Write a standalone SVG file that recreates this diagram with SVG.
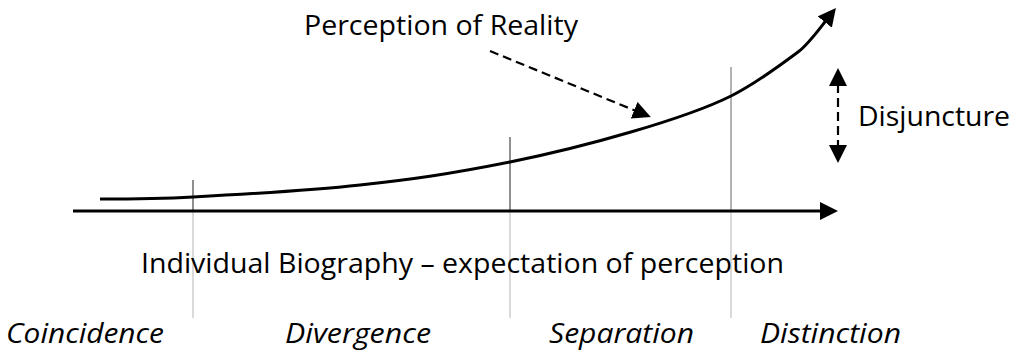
<svg xmlns="http://www.w3.org/2000/svg" width="1019" height="354" viewBox="0 0 1019 354">
  <defs>
    <marker id="arrow" viewBox="0 0 18 18" markerWidth="18" markerHeight="18" refX="2" refY="9" markerUnits="userSpaceOnUse" orient="auto-start-reverse">
      <path d="M0,0 L18,9 L0,18 Z" fill="#000" stroke="none"/>
    </marker>
    <style>
      .lbl { font-family: "Open Sans", "Noto Sans", "DejaVu Sans", sans-serif; font-size: 28px; fill: #000; }
      .it { font-style: italic; }
      .solid { fill: none; stroke: #000; stroke-width: 3; }
      .dash { fill: none; stroke: #000; stroke-width: 2.2; stroke-dasharray: 9 5; }
      .divTop { stroke: #454545; stroke-width: 1.2; }
      .divBot { stroke: #b5b5b5; stroke-width: 1; }
    </style>
  </defs>
  <rect width="1019" height="354" fill="#fff"/>

  <g id="dividers">
    <line class="divTop" x1="193" y1="180" x2="193" y2="211"/>
    <line class="divBot" x1="193" y1="211" x2="193" y2="318"/>
    <line class="divTop" x1="510" y1="137" x2="510" y2="211"/>
    <line class="divBot" x1="510" y1="211" x2="510" y2="318"/>
    <line class="divTop" x1="731" y1="67" x2="731" y2="211" style="stroke:#808080"/>
    <line class="divBot" x1="731" y1="211" x2="731" y2="318"/>
  </g>

  <g id="connectors">
    <line id="axis" class="solid" x1="73" y1="211" x2="822" y2="211" marker-end="url(#arrow)"/>
    <path id="reality-curve" class="solid" d="M100,199 C131,199 162,198.7 193,197 C236.3,194.7 307.2,190.8 360,185 C412.8,179.2 448,174.4 510,162 C585,147 686,118.5 731,96 C753,85 776,68.5 798,52 C808,44.5 819.2,29.1 826,20.5" marker-end="url(#arrow)"/>
    <line id="pointer" class="dash" x1="490" y1="51" x2="636" y2="111" marker-end="url(#arrow)"/>
    <line id="disjuncture-arrow" class="dash" x1="838" y1="84" x2="838" y2="147" marker-start="url(#arrow)" marker-end="url(#arrow)"/>
  </g>

  <g id="label-perception">
    <text class="lbl" x="304" y="35" textLength="274" lengthAdjust="spacingAndGlyphs">Perception of Reality</text>
  </g>
  <g id="label-disjuncture">
    <text class="lbl" x="858" y="126" textLength="152" lengthAdjust="spacingAndGlyphs">Disjuncture</text>
  </g>
  <g id="label-biography">
    <text class="lbl" x="141" y="273" textLength="643" lengthAdjust="spacingAndGlyphs">Individual Biography – expectation of perception</text>
  </g>
  <g id="label-coincidence">
    <text class="lbl it" x="6" y="343" textLength="158" lengthAdjust="spacingAndGlyphs">Coincidence</text>
  </g>
  <g id="label-divergence">
    <text class="lbl it" x="285" y="343" textLength="146" lengthAdjust="spacingAndGlyphs">Divergence</text>
  </g>
  <g id="label-separation">
    <text class="lbl it" x="549" y="343" textLength="145" lengthAdjust="spacingAndGlyphs">Separation</text>
  </g>
  <g id="label-distinction">
    <text class="lbl it" x="760" y="343" textLength="141" lengthAdjust="spacingAndGlyphs">Distinction</text>
  </g>
</svg>
